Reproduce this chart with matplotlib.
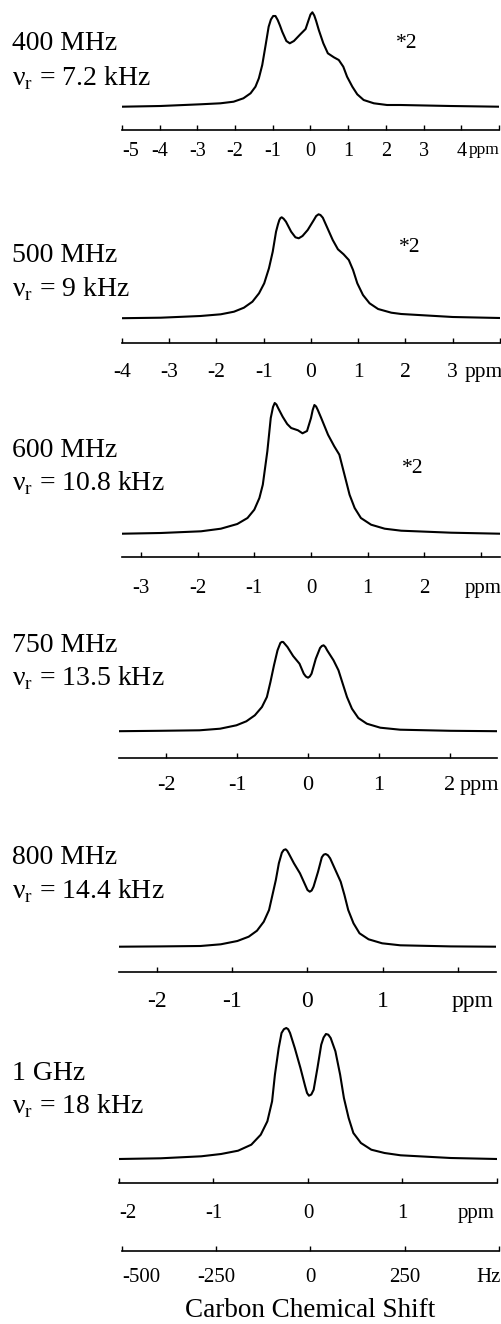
import numpy as np
import matplotlib.pyplot as plt

plt.rcParams['font.family'] = ['Liberation Serif', 'DejaVu Serif']
plt.rcParams['mathtext.fontset'] = 'custom'
plt.rcParams['mathtext.rm'] = 'Liberation Serif'
plt.rcParams['axes.unicode_minus'] = False

#<------------------------------ datos ------------------------------>
fields = ["400 MHz", "500 MHz", "600 MHz", "750 MHz", "800 MHz", "1 GHz"]
spin_rates = ["7.2", "9", "10.8", "13.5", "14.4", "18"]
half_width_ppm = [5.0, 4.0, 2000/600, 2000/750, 2.5, 2.0]
scale_marks = ["*2", "*2", "*2", "", "", ""]

ppm_400 = [-5.0, -3.98, -2.92, -2.39, -2.04, -1.78, -1.59, -1.46, -1.37, -1.28, -1.19, -1.11, -1.05,
           -0.99, -0.93, -0.87, -0.81, -0.75, -0.64, -0.55, -0.44, -0.27, -0.13, -0.05, 0.0, 0.05,
           0.10, 0.15, 0.22, 0.34, 0.46, 0.62, 0.75, 0.87, 0.97, 1.11, 1.24, 1.41, 1.68, 2.03,
           2.39, 3.71, 5.0]
int_400 = [0.3, 1.0, 2.7, 3.7, 5.3, 8.7, 13.7, 20.3, 28.7, 42, 62, 80.3, 87.5,
           91.0, 91.0, 87, 81.5, 75.3, 66, 63.7, 66, 72.7, 78, 87, 92.5, 94.7,
           91.5, 86, 77, 63.7, 53.7, 49.7, 47, 40.3, 30.3, 20.3, 12.7, 7, 3.7, 2,
           2, 1, 0.3]

ppm_500 = [-4.0, -3.18, -2.34, -1.91, -1.63, -1.42, -1.24, -1.10, -0.99, -0.89, -0.81, -0.74, -0.70,
           -0.67, -0.645, -0.62, -0.58, -0.53, -0.42, -0.33, -0.26, -0.18, -0.07, 0.06, 0.11, 0.16,
           0.20, 0.25, 0.35, 0.46, 0.57, 0.69, 0.80, 0.89, 0.98, 1.10, 1.24, 1.42, 1.70, 1.91,
           3.0, 4.0]
int_500 = [0.3, 0.8, 2.5, 4.2, 6.8, 10.8, 16.8, 25.2, 35.2, 50.2, 66.8, 86.8, 94,
           98.5, 100.5, 101.2, 99.8, 96.8, 86.8, 81.2, 80.2, 82.5, 88.5, 98.5, 102.5, 104.2,
           103.5, 100.8, 90.2, 78.5, 69.2, 64.2, 58.5, 48.5, 35.2, 23.5, 15.2, 9.5, 5.8, 4.5,
           1.5, 0.5]

ppm_600 = [-3.33, -2.65, -1.94, -1.59, -1.30, -1.12, -1.00, -0.91, -0.85, -0.81, -0.77, -0.74, -0.71,
           -0.67, -0.64, -0.61, -0.58, -0.50, -0.42, -0.35, -0.23, -0.15, -0.07, 0.0, 0.03, 0.06,
           0.09, 0.12, 0.18, 0.30, 0.41, 0.50, 0.56, 0.62, 0.68, 0.77, 0.88, 1.06, 1.30, 1.59,
           2.47, 3.33]
int_600 = [0.3, 1.0, 2.7, 5.3, 10, 16, 24.3, 36, 49.3, 66, 82.7, 99.3, 116,
           127, 131, 129.5, 126, 117.3, 110, 106, 103.7, 100.7, 103, 116, 124, 129,
           127.5, 124, 116, 99.3, 87.7, 79.3, 66, 52.7, 39.3, 26, 16, 9.3, 5.3, 3.3,
           1.3, 0.3]

ppm_750 = [-2.67, -2.09, -1.53, -1.24, -1.01, -0.87, -0.75, -0.65, -0.58, -0.53, -0.48, -0.43,
           -0.39, -0.37, -0.35, -0.29, -0.21, -0.12, -0.06, -0.03, 0.0, 0.025, 0.05, 0.11,
           0.17, 0.195, 0.22, 0.245, 0.27, 0.36, 0.43, 0.49, 0.55, 0.62, 0.71, 0.83, 1.02,
           1.30, 2.01, 2.67]
int_750 = [0.3, 0.7, 1.2, 2.8, 6.2, 10.2, 16.2, 24.5, 34.5, 49.5, 66.2, 81.2,
           88.5, 89.6, 89.5, 84.5, 75.5, 67.8, 57.8, 55, 53.8, 55, 57.8, 72.8,
           83.5, 85.5, 86.2, 84.5, 81.2, 71.2, 61.2, 47.8, 34.5, 22.8, 13.5, 7.8, 3.8,
           1.8, 0.7, 0.3]

ppm_800 = [-2.5, -1.95, -1.42, -1.15, -0.93, -0.78, -0.67, -0.58, -0.51, -0.47, -0.42, -0.38,
           -0.34, -0.315, -0.29, -0.27, -0.25, -0.18, -0.10, -0.03, 0.0, 0.03, 0.055, 0.08,
           0.14, 0.19, 0.215, 0.24, 0.27, 0.30, 0.37, 0.44, 0.49, 0.54, 0.61, 0.69, 0.81,
           0.99, 1.23, 1.90, 2.5]
int_800 = [0.3, 0.6, 1.0, 2.7, 6.0, 10.3, 16.3, 25.3, 37, 50.3, 67, 83.7,
           94.3, 97, 97.7, 96.3, 93.7, 83.7, 73.7, 62, 57, 55.3, 56.5, 60.3,
           75.3, 89.7, 92.3, 93, 91.8, 88.7, 77, 65.3, 52, 37, 23.7, 13.7, 7.7,
           3.7, 1.7, 0.6, 0.3]

ppm_1000 = [-2.0, -1.56, -1.13, -0.92, -0.74, -0.60, -0.50, -0.43, -0.38, -0.35, -0.31, -0.28,
            -0.255, -0.23, -0.21, -0.19, -0.14, -0.08, -0.03, -0.01, 0.01, 0.035, 0.06, 0.10,
            0.14, 0.165, 0.19, 0.215, 0.24, 0.29, 0.34, 0.38, 0.43, 0.48, 0.56, 0.67, 0.81,
            0.98, 1.51, 2.0]
int_1000 = [0.5, 1.2, 3.2, 5.5, 8.8, 14.8, 24.8, 38.2, 58.2, 84.8, 111.5, 126.5,
            130.3, 131.5, 130.3, 126.5, 111.5, 91.5, 73.2, 66.5, 63.8, 65, 69.8, 91.5,
            114.8, 122, 125.5, 124.8, 121.5, 108.2, 84.8, 61.5, 41.5, 26.5, 16.5, 9.8, 6.5,
            4.2, 1.5, 0.5]

ticks_ppm = [list(range(-5, 6)), list(range(-4, 5)), list(range(-3, 4)),
             list(range(-2, 3)), list(range(-2, 3)), list(range(-2, 3))]
labels_ppm = [["-5", "-4", "-3", "-2", "-1", "0", "1", "2", "3", "4", ""],
              ["-4", "-3", "-2", "-1", "0", "1", "2", "3", ""],
              ["-3", "-2", "-1", "0", "1", "2", ""],
              ["-2", "-1", "0", "1", "2"],
              ["-2", "-1", "0", "1", ""],
              ["-2", "-1", "0", "1", ""]]
ticks_hz = [-500, -250, 0, 250, 500]
labels_hz = ["-500", "-250", "0", "250", ""]

spectra = [(ppm_400, int_400), (ppm_500, int_500), (ppm_600, int_600),
           (ppm_750, int_750), (ppm_800, int_800), (ppm_1000, int_1000)]

#<------------------------------ posiciones (pixeles) ------------------------------>
W, H = 502, 1324
# left, right, axis line y, baseline y, headroom, tick fontsize, pad, ppm x, ppm ha, ppm size, first label left
layout = [(122, 499, 130, 107, 100, 14.5, 8.5, 5.02, "right", 12.5, True),
          (122, 500, 343, 318.5, 135, 15.5, 14.5, 3.66, "center", 15.5, False),
          (122, 500, 557, 534, 135, 15, 15.5, 3.03, "center", 15, False),
          (119, 497, 758, 731.5, 135, 16, 13, 2.42, "center", 16, False),
          (119, 496, 972, 947, 135, 17, 13.5, 2.19, "center", 17, False),
          (119, 497, 1183, 1159.5, 135, 15, 15, 1.78, "center", 15, True)]
name_y = [(50, 85), (262, 296), (457, 490), (652, 685), (864, 898), (1080, 1113)]
mark_pos = [(407, 48), (410, 252), (413, 473)]

fig = plt.figure(figsize=(W/100, H/100), dpi=100)


def clean(ax, fs, pad):
    for s in ["top", "left", "right"]:
        ax.spines[s].set_visible(False)
    ax.spines["bottom"].set_linewidth(1.2)
    ax.set_yticks([])
    ax.tick_params(axis="x", direction="in", length=3.5, width=1.0, pad=pad, labelsize=fs)
    ax.patch.set_visible(False)


for i, ((ppm, inten), lay) in enumerate(zip(spectra, layout)):
    l, r, ay, by, head, fs, pad, ppm_x, ppm_ha, ppm_fs, left_first = lay
    R = half_width_ppm[i]
    ax = fig.add_axes([l/W, 1-ay/H, (r-l)/W, (ay-(by-head))/H])
    ax.plot(ppm, inten, color="black", lw=1.5, solid_joinstyle="round")
    ax.set_xlim(-R, R)
    ax.set_ylim(-(ay-by), head)
    ax.set_xticks(ticks_ppm[i])
    ax.set_xticklabels(labels_ppm[i])
    clean(ax, fs, pad)
    if left_first:
        ax.get_xticklabels()[0].set_ha("left")
    ax.annotate("ppm", xy=(ppm_x, 0), xycoords=ax.get_xaxis_transform(),
                xytext=(0, -pad), textcoords="offset points", ha=ppm_ha, va="top", fontsize=ppm_fs)
    y1, y2 = name_y[i]
    fig.text(12/W, 1-y1/H, fields[i], fontsize=20, va="baseline")
    fig.text(12/W, 1-y2/H, "ν$_\\mathrm{r}$ = " + spin_rates[i] + " kHz", fontsize=20, va="baseline")
    if scale_marks[i]:
        mx, my = mark_pos[i]
        fig.text(mx/W, 1-my/H, scale_marks[i], fontsize=15.5, ha="center", va="baseline")

#<------------------------------ eje en Hz ------------------------------>
axh = fig.add_axes([122/W, 1-1251/H, 377/W, 8/H])
axh.set_xlim(-500, 500)
axh.set_ylim(0, 1)
axh.set_xticks(ticks_hz)
axh.set_xticklabels(labels_hz)
clean(axh, 15, 12.5)
axh.get_xticklabels()[0].set_ha("left")
axh.annotate("Hz", xy=(472, 0), xycoords=axh.get_xaxis_transform(),
             xytext=(0, -12.5), textcoords="offset points", ha="center", va="top", fontsize=15)

fig.text(310/W, 1-1317/H, "Carbon Chemical Shift", fontsize=19.5, ha="center", va="baseline")

plt.savefig("out.png", dpi=100)
